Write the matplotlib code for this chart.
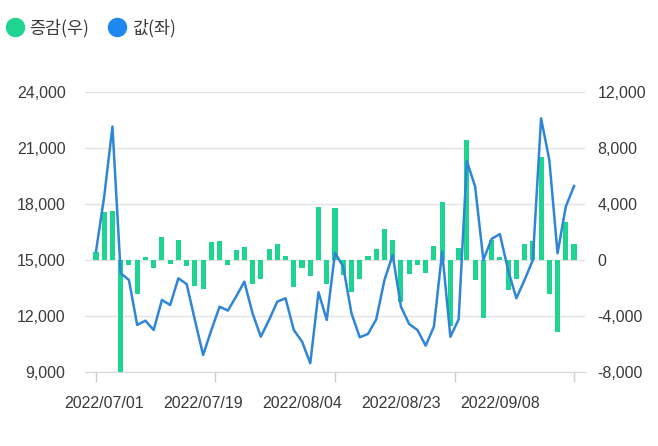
import numpy as np
import matplotlib
matplotlib.use("Agg")
import matplotlib.pyplot as plt
from matplotlib.lines import Line2D
from matplotlib.ticker import FuncFormatter

plt.rcParams['font.family'] = ['Liberation Sans', 'Noto Sans CJK KR', 'DejaVu Sans']

# 값(좌) - left axis line
values = [15450, 18400, 22150, 14290, 13930, 11520, 11750, 11250, 12860, 12590,
          14020, 13710, 11790, 9910, 11250, 12500, 12290, 13040, 13840, 12140,
          10890, 11790, 12770, 12950, 11250, 10630, 9470, 13270, 11790, 15390,
          14640, 12140, 10860, 11040, 11820, 13930, 15270, 12500, 11570, 11250,
          10410, 11430, 15450, 10890, 11820, 20300, 18930, 15000, 16130, 16390,
          14460, 12950, 13930, 15000, 22590, 20360, 15360, 17860, 18960]
# 증감(우) - right axis bars
changes = [600, 3450, 3500, -8000, -360, -2450, 190, -600, 1670, -300,
           1430, -430, -1860, -2070, 1310, 1360, -360, 710, 950, -1710,
           -1380, 760, 1140, 290, -1900, -600, -1140, 3760, -1710, 3690,
           -1070, -2260, -1380, 290, 790, 2210, 1430, -2980, -1000, -360,
           -900, 1020, 4120, -4710, 860, 8600, -1430, -4170, 1430, 190,
           -2140, -1380, 1120, 1330, 7330, -2430, -5170, 2740, 1140]
date_labels = ['2022/07/01', '2022/07/19', '2022/08/04', '2022/08/23', '2022/09/08']
label_pos = [1, 13, 25, 37, 49]

green = '#1fd491'
blue = '#2f86d8'
txt = '#3a3a3a'

x = np.arange(len(values))

fig = plt.figure(figsize=(6.58, 4.46), dpi=100)
ax = fig.add_axes([85/658, 1-372/446, 500/658, 280/446])
ax2 = ax.twinx()

ax2.bar(x, changes, width=0.62, color=green, zorder=2)
ax.plot(x, values, color=blue, lw=1.8, zorder=3)

ax.set_zorder(ax2.get_zorder() + 1)
ax.patch.set_visible(False)

ax.set_ylim(9000, 24000)
ax2.set_ylim(-8000, 12000)
ax.set_xlim(-1.33, len(values) - 1 + 1.33)

ax.set_yticks(np.arange(9000, 24001, 3000))
ax2.set_yticks(np.arange(-8000, 12001, 4000))
fmt = FuncFormatter(lambda v, p: f'{int(v):,}')
ax.yaxis.set_major_formatter(fmt)
ax2.yaxis.set_major_formatter(fmt)
ax2.grid(axis='y', color='#e3e3e3', lw=1, zorder=0)
ax2.set_axisbelow(True)

ax.set_xticks(label_pos)
ax.set_xticklabels(date_labels)
ax.set_xticks(np.linspace(0, len(values) - 1, 5), minor=True)
ax.tick_params(axis='x', which='major', length=0, pad=17, labelsize=11.5, colors=txt)
ax.tick_params(axis='x', which='minor', length=7, width=1, color='#d0d0d0')
ax.tick_params(axis='y', length=0, pad=14, labelsize=11.5, colors=txt)
ax2.tick_params(axis='y', length=0, pad=9, labelsize=11.5, colors=txt)

for a in (ax, ax2):
    for s in a.spines.values():
        s.set_visible(False)
ax.spines['bottom'].set_visible(True)
ax.spines['bottom'].set_color('#d8d8d8')

handles = [Line2D([], [], marker='o', ls='', color=green, markersize=13),
           Line2D([], [], marker='o', ls='', color='#1e88ef', markersize=13)]
fig.legend(handles, ['증감(우)', '값(좌)'], loc='center left',
           bbox_to_anchor=(6/658, 1-28/446), ncol=2, frameon=False,
           handlelength=1.0, handletextpad=0.35, columnspacing=1.1,
           borderpad=0, borderaxespad=0,
           prop={'family': ['Noto Sans CJK KR', 'DejaVu Sans'], 'size': 12.5},
           labelcolor=txt)

fig.savefig('out.png', dpi=100, facecolor='white')
